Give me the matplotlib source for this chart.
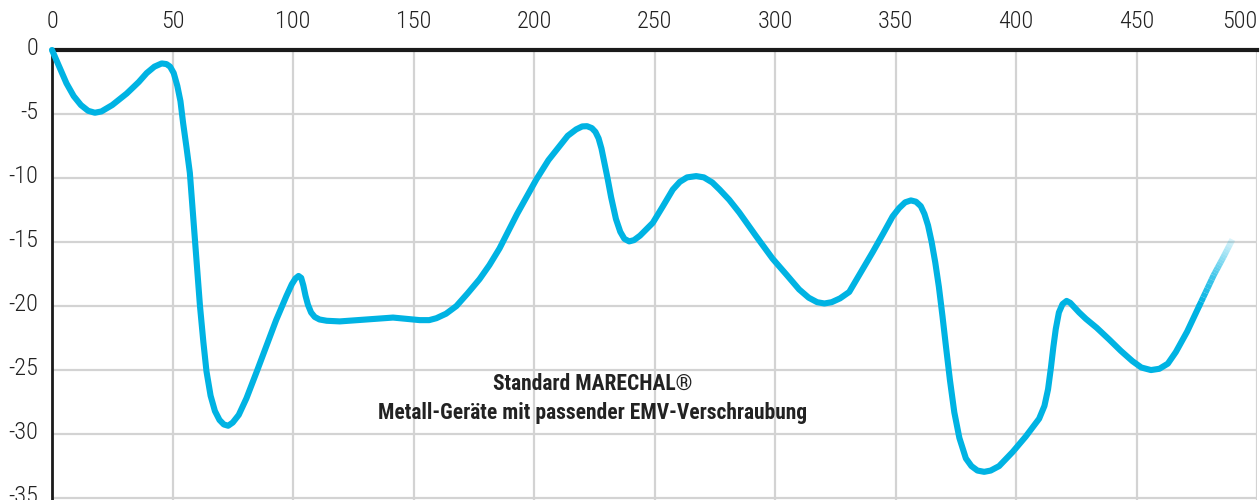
import numpy as np
import matplotlib.pyplot as plt
import matplotlib.transforms as mtransforms
from matplotlib.collections import LineCollection
from matplotlib import font_manager

# curve (frequency, attenuation)
freq = [0, 3, 6, 9, 12, 15, 17.8, 20.5, 25, 31, 36, 39.3, 42.5, 45.5, 47.5, 49, 50.5,
        52, 53.3, 54.4, 55.8, 57.2, 59.3, 61.4, 62.8, 64.1, 65.8, 67.6, 69.5, 71.3,
        73.1, 75, 77.5, 80.7, 85, 89, 93, 97.3, 99.5, 101, 102.3, 103.4, 104.3, 105.2,
        106.2, 107.5, 109, 111, 114, 119.4, 130.5, 141.5, 147, 152.6, 156.5, 159.5,
        163.5, 167.8, 172.5, 177.4, 181.5, 185.7, 193, 201, 206, 210.6, 214, 217.5,
        220, 222, 224, 225.5, 226.8, 228, 229.2, 230.5, 232, 234, 235.8, 237.5, 239.5,
        241.5, 244, 249.3, 253.5, 257.6, 260.5, 263.5, 267.3, 270.5, 274, 277, 281,
        285.2, 292, 299, 305, 310, 314, 317.5, 320.5, 323.5, 327, 330.8, 335.5, 340.5,
        345, 348.8, 351.5, 354, 356.4, 358.5, 360.5, 362, 363.5, 365, 366.5, 368,
        369.5, 370.9, 372.6, 374.4, 376.5, 379.2, 381.5, 384, 386.8, 389.5, 393, 398.6,
        404, 409.6, 411.8, 413.3, 414.5, 415.5, 416.5, 417.8, 419.3, 421, 422.5, 424.2,
        426.2, 429, 433.5, 438.6, 443.5, 448.3, 452, 456, 459.5, 463, 466.3, 471, 476,
        482, 486, 489.8]
atten = [0, -1.3, -2.6, -3.6, -4.3, -4.75, -4.9, -4.8, -4.3, -3.4, -2.5, -1.8, -1.3,
         -1.05, -1.1, -1.3, -1.8, -2.8, -4.0, -5.7, -7.6, -9.6, -14.8, -20.0, -22.8,
         -25.1, -27.0, -28.2, -28.9, -29.25, -29.35, -29.1, -28.5, -27.2, -25.1, -23.1,
         -21.1, -19.2, -18.3, -17.85, -17.65, -17.8, -18.4, -19.2, -19.9, -20.5, -20.85,
         -21.05, -21.15, -21.2, -21.05, -20.9, -21.0, -21.1, -21.1, -20.95, -20.6, -20.0,
         -19.0, -17.9, -16.8, -15.5, -12.8, -10.1, -8.6, -7.5, -6.7, -6.2, -5.97, -5.95,
         -6.1, -6.4, -6.9, -7.7, -8.8, -10.0, -11.5, -13.2, -14.2, -14.75, -14.95,
         -14.85, -14.5, -13.5, -12.2, -10.9, -10.3, -9.95, -9.85, -9.95, -10.35, -10.9,
         -11.7, -12.7, -14.5, -16.3, -17.6, -18.7, -19.35, -19.7, -19.8, -19.7, -19.4,
         -18.9, -17.4, -15.8, -14.3, -13.0, -12.35, -11.9, -11.75, -11.85, -12.2, -12.8,
         -13.7, -15.0, -16.6, -18.5, -20.8, -23.1, -25.8, -28.3, -30.3, -31.9, -32.5,
         -32.85, -32.95, -32.85, -32.5, -31.4, -30.2, -28.8, -27.8, -26.5, -24.8, -23.2,
         -21.8, -20.5, -19.85, -19.6, -19.75, -20.1, -20.5, -21.0, -21.7, -22.6, -23.5,
         -24.3, -24.8, -25.0, -24.9, -24.5, -23.6, -22.0, -20.0, -17.6, -16.2, -14.8]

x_ticks = [0, 50, 100, 150, 200, 250, 300, 350, 400, 450, 500]
y_ticks = [0, -5, -10, -15, -20, -25, -30, -35]
label = "Standard MARECHAL®\nMetall-Geräte mit passender EMV-Verschraubung"

# pick a condensed face if one is installed
names = {f.name for f in font_manager.fontManager.ttflist}
condensed = [n for n in ['Roboto Condensed', 'DejaVu Sans Condensed',
                         'Liberation Sans Narrow', 'Open Sans Condensed']
             if n in names]
plt.rcParams['font.family'] = condensed + ['Roboto', 'DejaVu Sans']
plt.rcParams['axes.unicode_minus'] = False
narrow = len(condensed) > 0

fig = plt.figure(figsize=(12.6, 5), dpi=100)
ax = fig.add_axes([52 / 1260, 0, 1205 / 1260, 0.9])

ax.set_xlim(0, 500)
ax.set_ylim(-35.15, 0)
ax.set_xticks(x_ticks)
ax.set_yticks(y_ticks)
ax.xaxis.tick_top()
tsize = 17.5 if narrow else 14.5
ax.tick_params(axis='both', length=0, labelsize=tsize, colors='#222222')
ax.tick_params(axis='x', pad=12)
ax.tick_params(axis='y', pad=10)
for t in ax.get_xticklabels() + ax.get_yticklabels():
    t.set_fontweight('light')
ax.get_xticklabels()[-1].set_horizontalalignment('right')
ax.get_xticklabels()[-1].set_x(498)
# y labels sit a little above their grid lines
up = mtransforms.ScaledTranslation(0, 4 / 100, fig.dpi_scale_trans)
for t in ax.get_yticklabels():
    t.set_transform(t.get_transform() + up)

ax.grid(True, color='#d3d3d3', linewidth=1.6)
ax.set_axisbelow(True)
for s in ['right', 'bottom']:
    ax.spines[s].set_visible(False)
ax.spines['left'].set_linewidth(2)
ax.spines['left'].set_color('#1a1a1a')
ax.spines['top'].set_linewidth(3)
ax.spines['top'].set_color('#1a1a1a')

col = '#00b3e3'
fade_from = freq.index(476)
ax.plot(freq[:fade_from + 1], atten[:fade_from + 1], color=col, linewidth=4.4,
        solid_joinstyle='round', solid_capstyle='round', zorder=3, clip_on=False)

# fading tail
pts = np.array([freq[fade_from:], atten[fade_from:]]).T
segs = []
for i in range(len(pts) - 1):
    sub = np.linspace(pts[i], pts[i + 1], 8)
    for j in range(len(sub) - 1):
        segs.append([sub[j], sub[j + 1]])
alphas = np.linspace(1, 0.15, len(segs))
colors = [(0, 0.70, 0.89, a) for a in alphas]
ax.add_collection(LineCollection(segs, colors=colors, linewidths=4.4,
                                 capstyle='butt', zorder=3))

ax.text(224.5, -27.2, label, ha='center', va='center',
        fontsize=15.5 if narrow else 13, fontweight='bold', color='#222222',
        linespacing=1.4, zorder=4)

fig.savefig('out.png', dpi=100)
